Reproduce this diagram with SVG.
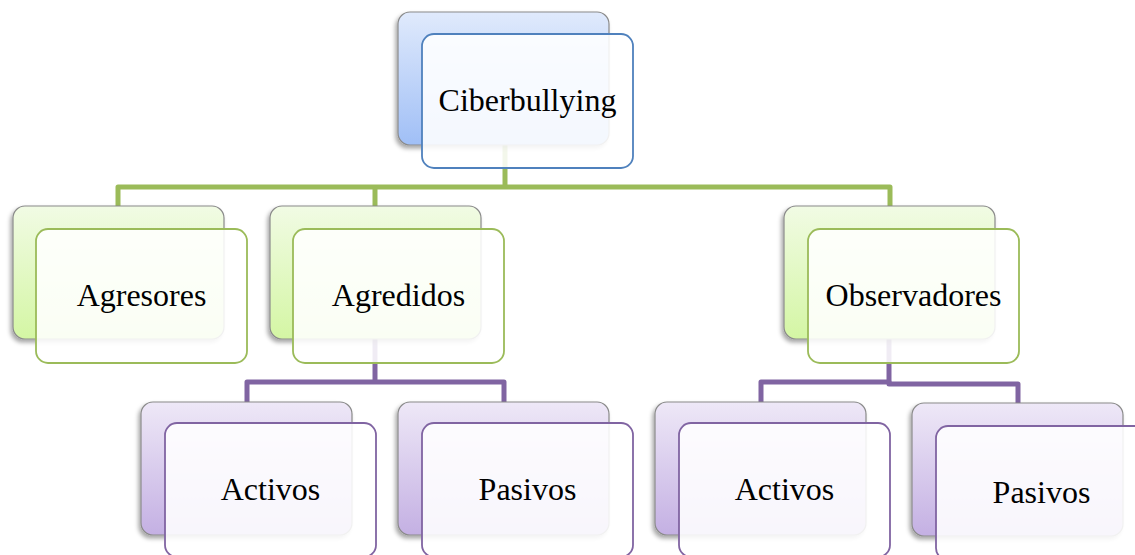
<svg xmlns="http://www.w3.org/2000/svg" width="1135" height="555" viewBox="0 0 1135 555">
<defs>
  <linearGradient id="gBlue" x1="0" y1="0" x2="0" y2="1">
    <stop offset="0" stop-color="#e0eafc"/>
    <stop offset="1" stop-color="#a0bff6"/>
  </linearGradient>
  <linearGradient id="gGreen" x1="0" y1="0" x2="0" y2="1">
    <stop offset="0" stop-color="#f1fbe4"/>
    <stop offset="1" stop-color="#d4f6a4"/>
  </linearGradient>
  <linearGradient id="gPurple" x1="0" y1="0" x2="0" y2="1">
    <stop offset="0" stop-color="#eee8f7"/>
    <stop offset="1" stop-color="#c4b0e3"/>
  </linearGradient>
  <filter id="sh" x="-10%" y="-10%" width="120%" height="125%">
    <feDropShadow dx="-2" dy="3" stdDeviation="2" flood-color="#000" flood-opacity="0.35"/>
  </filter>
</defs>
<style>
  .back { stroke: #8a8a8a; stroke-width: 1.2; filter: url(#sh); }
  .front { fill: #ffffff; fill-opacity: 0.88; stroke-width: 1.8; }
  .blue .back { fill: url(#gBlue); }
  .blue .front { stroke: #4f81bd; }
  .green .back { fill: url(#gGreen); }
  .green .front { stroke: #9bbb59; }
  .purple .back { fill: url(#gPurple); }
  .purple .front { stroke: #8064a2; }
  .lbl { font-family: "Liberation Serif", "Times New Roman", serif; font-size: 32px; fill: #000; text-anchor: middle; }
  .cg { fill: none; stroke: #9bbb59; stroke-width: 5; stroke-linejoin: round; }
  .cp { fill: none; stroke: #8064a2; stroke-width: 5; stroke-linejoin: round; }
</style>
<rect width="1135" height="555" fill="#ffffff"/>
<g id="connectors">
  <path class="cg" d="M505,145 V187"/>
  <path class="cg" d="M118,206 V187 H890 V206"/>
  <path class="cg" d="M375,187 V206"/>
  <path class="cp" d="M375,338 V382"/>
  <path class="cp" d="M247,402 V382 H504 V402"/>
  <path class="cp" d="M889,338 V383"/>
  <path class="cp" d="M761,402 V382 H889 V384 H1018 V403"/>
</g>
<g id="ciberbullying" class="blue">
  <rect class="back" x="398" y="12" width="211" height="133" rx="12"/>
  <rect class="front" x="422" y="34" width="211" height="134" rx="12"/>
  <text class="lbl" x="527.5" y="111">Ciberbullying</text>
</g>
<g id="agresores" class="green">
  <rect class="back" x="13" y="206" width="211" height="133" rx="12"/>
  <rect class="front" x="36" y="229" width="211" height="134" rx="12"/>
  <text class="lbl" x="141.5" y="306">Agresores</text>
</g>
<g id="agredidos" class="green">
  <rect class="back" x="270" y="206" width="211" height="133" rx="12"/>
  <rect class="front" x="293" y="229" width="211" height="134" rx="12"/>
  <text class="lbl" x="398.5" y="306">Agredidos</text>
</g>
<g id="observadores" class="green">
  <rect class="back" x="784" y="206" width="211" height="133" rx="12"/>
  <rect class="front" x="808" y="229" width="211" height="134" rx="12"/>
  <text class="lbl" x="913.5" y="306">Observadores</text>
</g>
<g id="activos-agredidos" class="purple">
  <rect class="back" x="141" y="402" width="211" height="133" rx="12"/>
  <rect class="front" x="165" y="423" width="211" height="134" rx="12"/>
  <text class="lbl" x="270.5" y="500">Activos</text>
</g>
<g id="pasivos-agredidos" class="purple">
  <rect class="back" x="398" y="402" width="211" height="133" rx="12"/>
  <rect class="front" x="422" y="423" width="211" height="134" rx="12"/>
  <text class="lbl" x="527.5" y="500">Pasivos</text>
</g>
<g id="activos-observadores" class="purple">
  <rect class="back" x="655" y="402" width="211" height="133" rx="12"/>
  <rect class="front" x="679" y="423" width="211" height="134" rx="12"/>
  <text class="lbl" x="784.5" y="500">Activos</text>
</g>
<g id="pasivos-observadores" class="purple">
  <rect class="back" x="912" y="403" width="211" height="133" rx="12"/>
  <rect class="front" x="936" y="426" width="211" height="134" rx="12"/>
  <text class="lbl" x="1041.5" y="503">Pasivos</text>
</g>
</svg>
